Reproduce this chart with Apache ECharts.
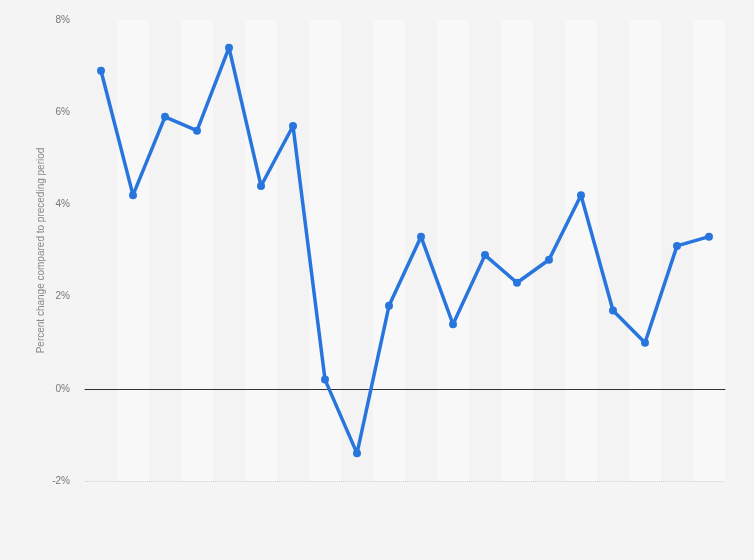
<!DOCTYPE html>
<html>
<head>
<meta charset="utf-8">
<script src="https://cdn.jsdelivr.net/npm/echarts@6/dist/echarts.min.js"></script>
<style>
  html, body { margin: 0; padding: 0; background: #f4f4f4; }
  #chart { width: 754px; height: 560px; }
</style>
</head>
<body>
<div id="chart"></div>
<script>
// Percent change per period (20 periods, no visible labels)
const periods = ['1', '2', '3', '4', '5', '6', '7', '8', '9', '10',
  '11', '12', '13', '14', '15', '16', '17', '18', '19', '20']
const changeValues = [6.9, 4.2, 5.9, 5.6, 7.4, 4.4, 5.7, 0.2, -1.4, 1.8,
  3.3, 1.4, 2.9, 2.3, 2.8, 4.2, 1.7, 1.0, 3.1, 3.3]
const yTicks = { min: -2, max: 8, interval: 2 }

const chart = echarts.init(document.getElementById('chart'))
chart.setOption({
  backgroundColor: '#f4f4f4',
  animation: false,
  textStyle: { fontFamily: 'Liberation Sans, Arial, sans-serif' },
  grid: { left: 85, right: 29, top: 20, bottom: 79 },
  xAxis: {
    type: 'category',
    data: periods,
    boundaryGap: true,
    axisLine: { show: true, onZero: true, lineStyle: { color: '#333', width: 1.2 } },
    axisTick: { show: false },
    axisLabel: { show: false },
    splitArea: { show: true, areaStyle: { color: ['#f3f3f3', '#f8f8f8'] } },
  },
  yAxis: {
    type: 'value',
    min: yTicks.min,
    max: yTicks.max,
    interval: yTicks.interval,
    name: 'Percent change compared to preceding period',
    nameLocation: 'middle',
    nameGap: 39,
    nameMoveOverlap: false,
    nameTextStyle: { color: '#888', fontSize: 10 },
    axisLine: { show: false },
    axisTick: { show: false },
    axisLabel: { color: '#777', fontSize: 10, margin: 15, formatter: '{value}%' },
    splitLine: { lineStyle: { type: 'dotted', color: '#d0d0d0', width: 1 } },
  },
  series: [{
    type: 'line',
    data: changeValues,
    symbol: 'circle',
    symbolSize: 8,
    lineStyle: { width: 3.5, color: '#2876dd' },
    itemStyle: { color: '#2876dd' },
  }],
})
</script>
</body>
</html>
